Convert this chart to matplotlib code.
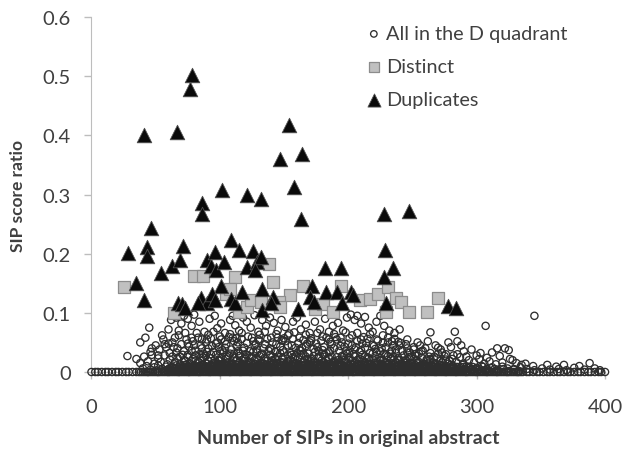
import matplotlib
matplotlib.use("Agg")
import matplotlib.pyplot as plt
from matplotlib.ticker import FuncFormatter

plt.rcParams['font.family'] = ['Lato', 'DejaVu Sans']

# ---- data ----
# circles sitting on the zero line
zero_x = [0, 3, 5, 8, 11, 13, 16, 19, 21, 24, 27, 29, 32, 35, 37, 40, 43, 45, 48, 51,
          53, 56, 59, 61, 64, 67, 69, 72, 75, 77, 80, 83, 85, 88, 91, 93, 96, 99, 101, 104,
          107, 109, 112, 115, 117, 120, 123, 125, 128, 131, 133, 136, 139, 141, 144, 147,
          149, 152, 155, 157, 160, 163, 165, 168, 171, 173, 176, 179, 181, 184, 187, 189,
          192, 195, 197, 200, 203, 205, 208, 211, 213, 216, 219, 221, 224, 227, 229, 232,
          235, 237, 240, 243, 245, 248, 251, 253, 256, 259, 261, 264, 267, 269, 272, 275,
          277, 280, 283, 285, 288, 291, 293, 296, 299, 301, 304, 307, 309, 312, 315, 317,
          320, 323, 325, 328, 331, 333, 336, 339, 341, 344, 347, 349, 352, 355, 357, 360,
          363, 365, 368, 371, 373, 376, 379, 381, 384, 387, 389, 392, 395, 397, 400]
zero2_x = [38.5, 41.5, 44, 46.5, 49.5, 52, 54.5, 57.5, 60, 62.5, 65.5, 68, 70.5, 73.5, 76,
           78.5, 81.5, 84, 86.5, 89.5, 92, 94.5, 97.5, 100, 102.5, 105.5, 108, 110.5, 113.5,
           116, 118.5, 121.5, 124, 126.5, 129.5, 132, 134.5, 137.5, 140, 142.5, 145.5, 148,
           150.5, 153.5, 156, 158.5, 161.5, 164, 166.5, 169.5, 172, 174.5, 177.5, 180, 182.5,
           185.5, 188, 190.5, 193.5, 196, 198.5, 201.5, 204, 206.5, 209.5, 212, 214.5, 217.5,
           220, 222.5, 225.5, 228, 230.5, 233.5, 236, 238.5, 241.5, 244, 246.5, 249.5, 252,
           254.5, 257.5, 260, 262.5, 265.5, 268, 270.5, 273.5, 276, 278.5, 281.5, 284, 286.5,
           289.5, 292, 294.5, 297.5, 300, 302.5, 305.5, 308, 310.5, 313.5, 316, 318.5, 321.5,
           324, 326.5, 329.5, 332, 334.5]

# packed rows of circles just above zero (the black mass)
row_a_y = 0.0015
row_a_x = [52, 57, 62, 66, 71, 75, 79, 84, 88, 92, 97, 101, 105, 110, 114, 118, 123, 127,
           131, 136, 140, 144, 149, 153, 157, 162, 166, 170, 175, 179, 183, 188, 192, 196,
           201, 205, 209, 214, 218, 222, 227, 231, 235, 240, 244, 248, 253, 257, 261, 266,
           270, 274, 279, 283, 288, 293, 298, 304, 310, 317, 325, 333]
row_f_y = 0.003
row_f_x = [58.5, 63, 67.5, 72, 76.5, 81, 85.5, 90, 94.5, 99, 103.5, 108, 112.5, 117, 121.5,
           126, 130.5, 135, 139.5, 144, 148.5, 153, 157.5, 162, 166.5, 171, 175.5, 180, 184.5,
           189, 193.5, 198, 202.5, 207, 211.5, 216, 220.5, 225, 229.5, 234, 238.5, 243, 247.5,
           252, 256.5, 261, 265.5, 270, 274.5, 279, 284, 289, 295, 301, 307]
row_b_y = 0.005
row_b_x = [55, 60, 64, 69, 73, 77, 82, 86, 90, 95, 99, 103, 108, 112, 116, 121, 125, 129,
           134, 138, 142, 147, 151, 155, 160, 164, 168, 173, 177, 181, 186, 190, 194, 199,
           203, 207, 212, 216, 220, 225, 229, 233, 238, 242, 246, 251, 255, 259, 264, 268,
           272, 277, 281, 286, 291, 296, 302, 308, 314, 321, 329]
row_g_y = 0.0065
row_g_x = [61, 65.5, 70, 74.5, 79, 83.5, 88, 92.5, 97, 101.5, 106, 110.5, 115, 119.5, 124,
           128.5, 133, 137.5, 142, 146.5, 151, 155.5, 160, 164.5, 169, 173.5, 178, 182.5, 187,
           191.5, 196, 200.5, 205, 209.5, 214, 218.5, 223, 227.5, 232, 236.5, 241, 245.5, 250,
           254.5, 259, 263.5, 268, 272.5, 277, 282, 287, 293, 300]
row_c_y = 0.0085
row_c_x = [63, 68, 72, 76, 81, 85, 89, 94, 98, 102, 107, 111, 115, 120, 124, 128, 133, 137,
           141, 146, 150, 154, 159, 163, 167, 172, 176, 180, 185, 189, 193, 198, 202, 206,
           211, 215, 219, 224, 228, 232, 237, 241, 245, 250, 254, 258, 263, 267, 271, 276,
           280, 285, 290, 297, 305]
row_h_y = 0.010
row_h_x = [70, 75, 79.5, 84, 88.5, 93, 97.5, 102, 106.5, 111, 115.5, 120, 124.5, 129, 133.5,
           138, 142.5, 147, 151.5, 156, 160.5, 165, 169.5, 174, 178.5, 183, 187.5, 192, 196.5,
           201, 205.5, 210, 214.5, 219, 223.5, 228, 232.5, 237, 241.5, 246, 250.5, 255, 260,
           266, 273, 281]
row_d_y = 0.012
row_d_x = [74, 80, 87, 93, 100, 104, 109, 113, 117, 122, 126, 130, 135, 139, 143, 148, 152,
           156, 161, 165, 169, 174, 178, 182, 187, 191, 195, 200, 204, 208, 213, 217, 221,
           226, 230, 234, 239, 243, 247, 252, 258, 265, 272, 280, 289]
row_i_y = 0.014
row_i_x = [90, 98, 103, 110, 119, 127, 134, 144, 153, 161, 170, 178, 186, 194, 202, 210,
           218, 226, 234, 242, 250, 259, 268]
row_e_y = 0.016
row_e_x = [84, 96, 106, 115, 124, 132, 140, 149, 157, 165, 173, 181, 189, 197, 205, 213,
           221, 229, 237, 245, 254, 263, 273]
row_j_y = 0.02
row_j_x = [100, 113, 127, 141, 155, 169, 183, 197, 211, 225, 239, 253]

floor_pts = [
    (40, 0.006), (43, 0.01), (46, 0.004), (49, 0.008), (52, 0.011), (55, 0.005), (58, 0.009),
    (61, 0.003), (63, 0.007), (66, 0.011), (68, 0.004), (71, 0.008), (73, 0.012), (76, 0.005),
    (78, 0.009), (81, 0.003), (83, 0.007), (86, 0.011), (88, 0.005), (91, 0.009), (93, 0.003),
    (96, 0.007), (98, 0.011), (101, 0.004), (103, 0.008), (106, 0.012), (108, 0.006), (111, 0.01),
    (113, 0.003), (116, 0.007), (118, 0.011), (121, 0.005), (123, 0.009), (126, 0.003), (128, 0.008),
    (131, 0.012), (133, 0.005), (136, 0.009), (138, 0.004), (141, 0.007), (143, 0.011), (146, 0.005),
    (148, 0.009), (151, 0.003), (153, 0.007), (156, 0.011), (158, 0.004), (161, 0.008), (163, 0.012),
    (166, 0.006), (168, 0.01), (171, 0.003), (173, 0.007), (176, 0.011), (178, 0.005), (181, 0.009),
    (183, 0.003), (186, 0.008), (188, 0.012), (191, 0.005), (193, 0.009), (196, 0.004), (198, 0.007),
    (201, 0.011), (203, 0.005), (206, 0.009), (208, 0.003), (211, 0.007), (213, 0.011), (216, 0.004),
    (218, 0.008), (221, 0.012), (223, 0.006), (226, 0.01), (228, 0.003), (231, 0.007), (233, 0.011),
    (236, 0.005), (238, 0.009), (241, 0.003), (243, 0.008), (246, 0.012), (248, 0.005), (251, 0.009),
    (253, 0.004), (256, 0.007), (258, 0.011), (261, 0.005), (263, 0.009), (266, 0.003), (268, 0.007),
    (271, 0.011), (273, 0.004), (276, 0.008), (279, 0.006), (282, 0.01), (285, 0.004), (288, 0.008),
    (291, 0.005), (294, 0.009), (297, 0.004), (300, 0.007), (304, 0.01), (308, 0.005), (312, 0.008),
    (316, 0.004), (320, 0.009), (324, 0.006), (329, 0.004), (334, 0.008), (339, 0.005), (345, 0.003),
    (351, 0.006), (357, 0.004), (364, 0.005), (370, 0.003), (376, 0.007), (380, 0.01), (384, 0.004),
    (388, 0.015), (392, 0.006), (396, 0.003),
]

low_pts = [
    (28, 0.027), (35, 0.022), (38, 0.015), (41, 0.026), (44, 0.018), (47, 0.029), (49, 0.014),
    (52, 0.023), (54, 0.017), (57, 0.028), (59, 0.013), (61, 0.021), (63, 0.026), (65, 0.016),
    (67, 0.024), (69, 0.013), (71, 0.029), (73, 0.019), (75, 0.025), (77, 0.014), (79, 0.022),
    (81, 0.028), (83, 0.017), (85, 0.024), (87, 0.012), (89, 0.027), (91, 0.019), (93, 0.023),
    (95, 0.015), (97, 0.029), (99, 0.02), (101, 0.025), (103, 0.013), (105, 0.022), (107, 0.028),
    (109, 0.016), (111, 0.024), (113, 0.019), (115, 0.027), (117, 0.014), (119, 0.023), (121, 0.029),
    (123, 0.017), (125, 0.025), (127, 0.013), (129, 0.021), (131, 0.027), (133, 0.016), (135, 0.024),
    (137, 0.019), (139, 0.029), (141, 0.014), (143, 0.022), (145, 0.026), (147, 0.017), (149, 0.024),
    (151, 0.012), (153, 0.028), (155, 0.02), (157, 0.025), (159, 0.015), (161, 0.023), (163, 0.029),
    (165, 0.018), (167, 0.026), (169, 0.013), (171, 0.022), (173, 0.027), (175, 0.016), (177, 0.024),
    (179, 0.019), (181, 0.029), (183, 0.014), (185, 0.023), (187, 0.026), (189, 0.017), (191, 0.025),
    (193, 0.012), (195, 0.021), (197, 0.028), (199, 0.016), (201, 0.024), (203, 0.019), (205, 0.027),
    (207, 0.014), (209, 0.022), (211, 0.029), (213, 0.017), (215, 0.025), (217, 0.013), (219, 0.021),
    (221, 0.027), (223, 0.016), (225, 0.024), (227, 0.019), (229, 0.028), (231, 0.014), (233, 0.022),
    (235, 0.026), (237, 0.017), (239, 0.024), (241, 0.013), (243, 0.028), (245, 0.02), (247, 0.025),
    (249, 0.015), (251, 0.022), (253, 0.027), (255, 0.017), (257, 0.024), (259, 0.013), (261, 0.021),
    (263, 0.026), (266, 0.016), (269, 0.023), (272, 0.019), (275, 0.027), (278, 0.014), (281, 0.022),
    (284, 0.017), (287, 0.025), (290, 0.013), (294, 0.02), (298, 0.016), (302, 0.022), (306, 0.014),
    (310, 0.018), (315, 0.013), (320, 0.016), (326, 0.022), (331, 0.015), (335, 0.012),
    (66, 0.033), (72, 0.02), (78, 0.036), (84, 0.03), (90, 0.034), (96, 0.021), (102, 0.037),
    (108, 0.031), (114, 0.035), (120, 0.022), (126, 0.034), (132, 0.03), (138, 0.036), (144, 0.021),
    (150, 0.033), (156, 0.029), (162, 0.037), (168, 0.022), (174, 0.034), (180, 0.031), (186, 0.036),
    (192, 0.02), (198, 0.035), (204, 0.03), (210, 0.037), (216, 0.023), (222, 0.034), (228, 0.031),
    (234, 0.036), (240, 0.02), (246, 0.033), (252, 0.03), (258, 0.036), (264, 0.022), (270, 0.031),
    (276, 0.021), (282, 0.028), (69, 0.026), (75, 0.029), (81, 0.019), (87, 0.025), (93, 0.03),
    (99, 0.019), (105, 0.026), (111, 0.031), (117, 0.02), (123, 0.027), (129, 0.033), (135, 0.019),
    (141, 0.026), (147, 0.032), (153, 0.019), (159, 0.026), (165, 0.031), (171, 0.019), (177, 0.026),
    (183, 0.032), (189, 0.019), (195, 0.027), (201, 0.032), (207, 0.02), (213, 0.026), (219, 0.031),
    (225, 0.019), (231, 0.027), (237, 0.032), (243, 0.019), (249, 0.026), (255, 0.031), (261, 0.019),
    (267, 0.026), (273, 0.033), (279, 0.019), (285, 0.03), (292, 0.026), (300, 0.028), (308, 0.024),
    (318, 0.027), (328, 0.02), (338, 0.014), (344, 0.01), (355, 0.012), (362, 0.009), (368, 0.012),
]

mid_pts = [
    (38, 0.05), (42, 0.058), (46, 0.034), (50, 0.045), (53, 0.038), (56, 0.055), (58, 0.042),
    (61, 0.032), (63, 0.05), (65, 0.058), (67, 0.04), (70, 0.047), (72, 0.035), (74, 0.055),
    (76, 0.043), (79, 0.052), (81, 0.036), (83, 0.058), (85, 0.045), (87, 0.031), (89, 0.05),
    (91, 0.04), (93, 0.057), (95, 0.034), (97, 0.048), (99, 0.042), (101, 0.055), (103, 0.033),
    (105, 0.047), (107, 0.059), (109, 0.038), (111, 0.052), (113, 0.044), (115, 0.031), (117, 0.056),
    (119, 0.041), (121, 0.049), (123, 0.035), (125, 0.058), (127, 0.045), (129, 0.038), (131, 0.053),
    (133, 0.031), (135, 0.047), (137, 0.056), (139, 0.04), (141, 0.05), (143, 0.034), (145, 0.058),
    (147, 0.043), (149, 0.037), (151, 0.052), (153, 0.045), (155, 0.032), (157, 0.056), (159, 0.041),
    (161, 0.049), (163, 0.036), (165, 0.054), (167, 0.044), (169, 0.031), (171, 0.057), (173, 0.039),
    (175, 0.048), (177, 0.035), (179, 0.053), (181, 0.042), (183, 0.058), (185, 0.033), (187, 0.047),
    (189, 0.04), (191, 0.055), (193, 0.036), (195, 0.05), (197, 0.043), (199, 0.031), (201, 0.057),
    (203, 0.045), (205, 0.038), (207, 0.052), (209, 0.034), (211, 0.048), (213, 0.041), (215, 0.056),
    (217, 0.032), (219, 0.046), (221, 0.039), (223, 0.053), (225, 0.035), (227, 0.049), (229, 0.042),
    (231, 0.058), (233, 0.031), (235, 0.045), (237, 0.038), (239, 0.051), (242, 0.036), (245, 0.047),
    (248, 0.033), (251, 0.042), (254, 0.05), (257, 0.035), (260, 0.04), (264, 0.032), (268, 0.045),
    (272, 0.038), (276, 0.03), (280, 0.042), (285, 0.052), (290, 0.035), (316, 0.04), (322, 0.04),
    (325, 0.037), (312, 0.033), (100, 0.035), (120, 0.03), (140, 0.038), (160, 0.032), (180, 0.037),
    (110, 0.058), (130, 0.055), (150, 0.057), (170, 0.05), (190, 0.059), (210, 0.055), (90, 0.055),
    (80, 0.045), (60, 0.048),
    (68, 0.062), (73, 0.066), (78, 0.058), (82, 0.066), (86, 0.055), (91, 0.063), (95, 0.068),
    (100, 0.06), (104, 0.052), (108, 0.064), (113, 0.057), (117, 0.066), (122, 0.06), (126, 0.052),
    (131, 0.063), (135, 0.068), (140, 0.058), (144, 0.064), (149, 0.054), (153, 0.062), (158, 0.067),
    (162, 0.058), (167, 0.063), (171, 0.053), (176, 0.066), (180, 0.06), (185, 0.055), (189, 0.064),
    (194, 0.058), (198, 0.067), (203, 0.062), (207, 0.066), (212, 0.059), (217, 0.064), (222, 0.055),
    (227, 0.062), (231, 0.05), (236, 0.056), (241, 0.049), (246, 0.055), (251, 0.038), (94, 0.044),
    (98, 0.05), (104, 0.041), (114, 0.05), (118, 0.036), (128, 0.047), (134, 0.04), (144, 0.047),
    (148, 0.053), (156, 0.045), (164, 0.041), (168, 0.048), (176, 0.042), (186, 0.051), (194, 0.044),
    (200, 0.048), (206, 0.042), (214, 0.049), (220, 0.044), (226, 0.04), (234, 0.052), (240, 0.045),
    (246, 0.04), (256, 0.045), (262, 0.052), (270, 0.041), (278, 0.05), (288, 0.045), (296, 0.038),
    (303, 0.032), (75, 0.048), (86, 0.04), (64, 0.042), (57, 0.047), (52, 0.028), (47, 0.04),
]

top_pts = [
    (62, 0.088), (66, 0.092), (70, 0.082), (72, 0.095), (75, 0.09), (68, 0.07), (60, 0.072),
    (78, 0.078), (84, 0.085), (88, 0.068), (92, 0.09), (96, 0.095), (98, 0.074), (101, 0.082),
    (104, 0.066), (108, 0.088), (112, 0.079), (115, 0.07), (118, 0.092), (121, 0.085), (124, 0.075),
    (127, 0.096), (130, 0.068), (133, 0.088), (136, 0.078), (139, 0.092), (142, 0.083), (145, 0.07),
    (148, 0.088), (151, 0.076), (154, 0.065), (157, 0.085), (160, 0.092), (163, 0.072), (167, 0.08),
    (170, 0.066), (174, 0.085), (178, 0.072), (182, 0.09), (185, 0.068), (188, 0.078), (192, 0.083),
    (196, 0.07), (199, 0.092), (202, 0.097), (205, 0.088), (207, 0.095), (210, 0.082), (213, 0.093),
    (216, 0.075), (219, 0.068), (222, 0.085), (225, 0.095), (228, 0.078), (232, 0.07), (236, 0.066),
    (240, 0.072), (45, 0.075), (264, 0.067), (283, 0.068), (307, 0.078), (345, 0.095), (55, 0.062),
    (80, 0.097), (110, 0.095),
]

distinct_x = [25.5, 80, 87, 64.5, 112, 138, 141, 155, 165, 174, 180, 188, 194, 115, 121, 124,
              132, 146, 147, 105, 108, 209, 217, 223, 231, 237, 241, 247, 229.5, 261, 270]
distinct_y = [0.144, 0.162, 0.162, 0.099, 0.161, 0.182, 0.152, 0.131, 0.145, 0.107, 0.115, 0.101,
              0.146, 0.101, 0.110, 0.121, 0.118, 0.118, 0.110, 0.132, 0.141, 0.121, 0.124, 0.132,
              0.144, 0.125, 0.118, 0.101, 0.101, 0.101, 0.125]

dup_x = [78, 77, 41, 67, 154, 147, 164, 157.5, 163, 102, 121.5, 132, 86, 86, 228, 247, 46, 28.5,
         43, 43, 35, 41, 54, 63, 69, 71, 67.5, 70.5, 73, 85, 90, 83, 90, 96, 93, 97, 103, 101,
         94, 96, 109, 115, 126, 121, 129, 132, 127, 109, 112, 117, 133, 132.5, 141, 140, 161,
         171.5, 170.5, 173, 182, 194, 183, 191, 195, 202, 204, 229, 235, 228, 229.5, 277.5, 284]
dup_y = [0.503, 0.479, 0.400, 0.406, 0.417, 0.361, 0.368, 0.312, 0.258, 0.307, 0.299, 0.293,
         0.285, 0.268, 0.268, 0.272, 0.243, 0.201, 0.211, 0.196, 0.151, 0.122, 0.168, 0.180,
         0.189, 0.213, 0.117, 0.115, 0.108, 0.125, 0.117, 0.117, 0.190, 0.203, 0.180, 0.172,
         0.186, 0.146, 0.132, 0.121, 0.223, 0.206, 0.204, 0.177, 0.186, 0.194, 0.172, 0.124,
         0.117, 0.135, 0.140, 0.104, 0.127, 0.117, 0.106, 0.146, 0.127, 0.118, 0.176, 0.176,
         0.135, 0.135, 0.117, 0.135, 0.131, 0.207, 0.176, 0.161, 0.117, 0.112, 0.108]

# ---- figure ----
fig = plt.figure(figsize=(6.24, 4.52), dpi=100)
ax = fig.add_axes([0.1466, 0.1748, 0.823, 0.785])

rows = [(0.0, zero_x), (0.0, zero2_x), (row_a_y, row_a_x), (row_f_y, row_f_x),
        (row_b_y, row_b_x), (row_g_y, row_g_x), (row_c_y, row_c_x), (row_h_y, row_h_x),
        (row_d_y, row_d_x), (row_i_y, row_i_x), (row_e_y, row_e_x), (row_j_y, row_j_x)]
all_x, all_y = [], []
for ry, rx in rows:
    all_x += rx
    all_y += [ry] * len(rx)
for px, py in floor_pts + low_pts + mid_pts + top_pts:
    all_x.append(px)
    all_y.append(py)

ax.scatter(all_x, all_y, s=27, facecolors='none', edgecolors='#2e2e2e',
           linewidths=0.95, label='All in the D quadrant', clip_on=False, zorder=3)
ax.scatter(distinct_x, distinct_y, s=70, marker='s', facecolor='#c0c0c0',
           edgecolor='#8c8c8c', linewidths=0.9, label='Distinct', zorder=4)
ax.scatter(dup_x, dup_y, s=110, marker='^', facecolor='#0a0a0a',
           edgecolor='#505050', linewidths=0.6, label='Duplicates', zorder=5)

ax.set_xlim(0, 400)
ax.set_ylim(0, 0.6)
ax.set_xticks([0, 100, 200, 300, 400])
ax.set_yticks([0, 0.1, 0.2, 0.3, 0.4, 0.5, 0.6])
ax.yaxis.set_major_formatter(FuncFormatter(lambda v, p: '0' if v == 0 else '%.1f' % v))

for side in ['top', 'right']:
    ax.spines[side].set_visible(False)
ax.spines['left'].set_color('#bdbdbd')
ax.spines['bottom'].set_color('#bdbdbd')
ax.tick_params(axis='both', colors='#bdbdbd', labelcolor='#404040', labelsize=14.5,
               length=5, width=1)
ax.tick_params(axis='x', pad=14)
ax.tick_params(axis='y', pad=10)

ax.set_xlabel('Number of SIPs in original abstract', fontsize=14, fontweight='bold',
              color='#404040', labelpad=10)
ax.set_ylabel('SIP score ratio', fontsize=12.5, fontweight='bold', color='#404040',
              labelpad=12)

leg = ax.legend(loc='upper left', bbox_to_anchor=(0.515, 1.0), frameon=False,
                fontsize=14.3, handletextpad=0.1, labelspacing=0.8, borderaxespad=0.0,
                handlelength=1.0, markerscale=0.9)
for t in leg.get_texts():
    t.set_color('#404040')

fig.savefig('out.png', dpi=100)
